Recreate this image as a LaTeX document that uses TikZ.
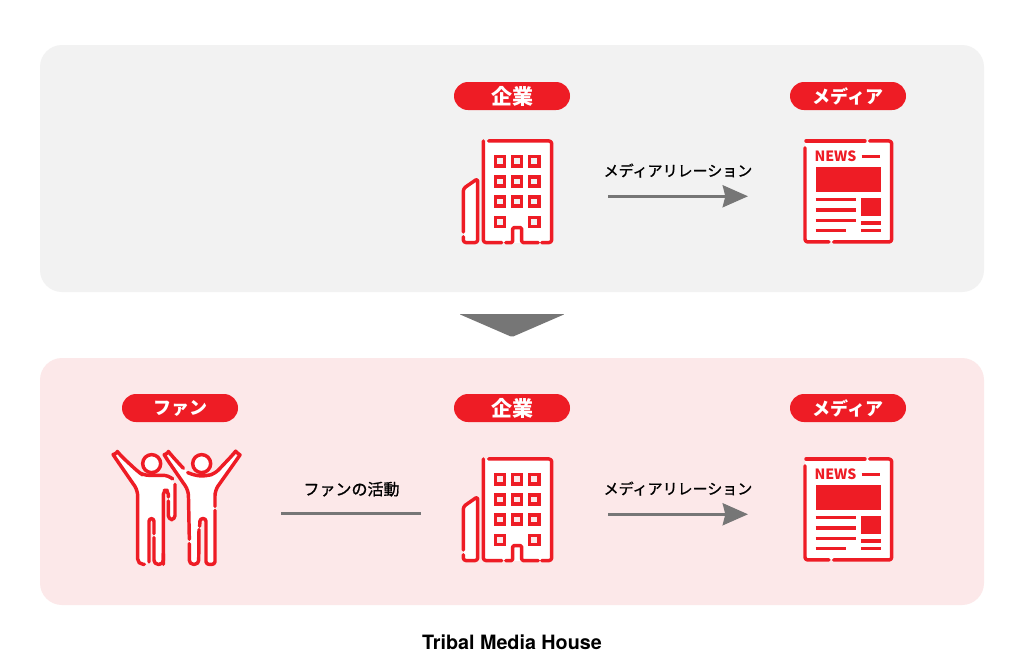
\documentclass[tikz,border=0pt]{standalone}
\usepackage{fontspec}
\usepackage{tikz}
\usetikzlibrary{positioning,arrows.meta}
\newfontfamily\cjk{Noto Sans CJK JP}
\newfontfamily\cjkmed[FakeBold=1]{Noto Sans CJK JP}
\newfontfamily\logofont{TeX Gyre Heros}
\definecolor{brandred}{HTML}{EE1C25}
\definecolor{panelgray}{HTML}{F2F2F2}
\definecolor{panelpink}{HTML}{FCE8E9}
\definecolor{arrowgray}{HTML}{767676}
\tikzset{
  panelbox/.style={rounded corners=16.5pt,minimum width=708pt,minimum height=185.25pt},
  tagpill/.style={fill=brandred,text=white,rounded corners=10.5pt,minimum width=87pt,minimum height=21pt,inner sep=0pt,font=\cjk\bfseries\fontsize{13.5}{14}\selectfont},
  iconbox/.style={minimum height=82.5pt,inner sep=0pt,outer sep=0pt},
  iconline/.style={draw=brandred,line width=2.6pt,line cap=round,line join=round},
  windowline/.style={draw=brandred,line width=2.6pt,line join=miter},
  relarrow/.style={draw=arrowgray,line width=2.1pt,-{Stealth[length=19pt,width=16.5pt,inset=2pt]}},
  relline/.style={draw=arrowgray,line width=2.1pt},
  rellabel/.style={font=\cjkmed\fontsize{11.25}{12}\selectfont,inner sep=0pt,above=13pt}
}
\newcommand{\corpicon}[2]{%
\begin{scope}[shift={(#1)},shift={(-507,-196)}]
\fill[white] (483.3,140.7) rectangle (551.7,242.3);
\fill[white] (463.3,188.3) -- (477.7,178.3) -- (477.7,242.3) -- (463.3,242.3) -- cycle;
\draw[iconline,rounded corners=2pt] (488.7,140.7) -- (551.7,140.7) -- (551.7,242.3) -- (541.7,242.3);
\draw[iconline,rounded corners=1pt] (538.3,242.3) -- (521.7,242.3) -- (521.7,227.3) -- (512.7,227.3) -- (512.7,242.3) -- (505.7,242.3);
\draw[iconline,rounded corners=2pt] (501.7,242.3) -- (483.3,242.3) -- (483.3,140.7);
\draw[iconline,rounded corners=2pt] (463.3,231.7) -- (463.3,188.3) -- (477.7,178.3) -- (477.7,242.3) -- (463.3,242.3) -- (463.3,236.5);
\foreach \wx in {500,517,534.3}
  \foreach \wy in {161,181.3,201.3}
    \draw[windowline,fill=#2] (\wx-4.6,\wy-4.6) rectangle (\wx+4.6,\wy+4.6);
\foreach \wx in {500,534.3}
  \draw[windowline,fill=#2] (\wx-4.6,217.1) rectangle (\wx+4.6,226.3);
\end{scope}}
\newcommand{\newsicon}[1]{%
\begin{scope}[shift={(#1)},shift={(-848,-196)}]
\fill[white] (805,140.7) rectangle (891.7,241.7);
\draw[iconline,rounded corners=1.5pt] (806,140.7) -- (865,140.7);
\draw[iconline,rounded corners=2pt] (869.5,140.7) -- (891.7,140.7) -- (891.7,241.7) -- (833.5,241.7);
\draw[iconline,rounded corners=2pt] (829,241.7) -- (805,241.7) -- (805,147.5);
\node (newsWord) at (835.5,156.3) [inner sep=0pt,text=brandred,font=\cjk\bfseries\fontsize{10.6}{12}\selectfont] {NEWS};
\fill[brandred] (815.7,166.3) rectangle (881.3,191.3);
\fill[brandred] (861,197.3) rectangle (881.3,215.3);
\draw[iconline,line cap=butt] (861.7,156) -- (880,156);
\draw[iconline,line cap=butt] (815.7,199.3) -- (856,199.3);
\draw[iconline,line cap=butt] (815.7,209.7) -- (856,209.7);
\draw[iconline,line cap=butt] (815.7,220) -- (856,220);
\draw[iconline,line cap=butt] (815.7,230.3) -- (846.3,230.3);
\draw[iconline,line cap=butt] (861,222.7) -- (881.3,222.7);
\draw[iconline,line cap=butt] (861,230.3) -- (881.3,230.3);
\end{scope}}
\newcommand{\fansicon}[1]{%
\begin{scope}[shift={(#1)},shift={(-177,-514)},shift={(100,440)},scale=1/3]
\fill[white,rounded corners=3pt] (48,52) -- (113,150) -- (113,372) -- (147,372) -- (147,235) -- (162,235) -- (162,372) -- (190,372) -- (190,150) -- (205,150) -- (205,240) -- (225,240) -- (225,130) -- (205,105) -- (130,105) -- (115,95) -- (55,40) -- cycle;
\fill[white,rounded corners=3pt] (202,52) -- (265,150) -- (268,372) -- (296,372) -- (297,235) -- (318,235) -- (318,372) -- (345,372) -- (345,150) -- (411,52) -- (403,42) -- (345,100) -- (320,107) -- (290,107) -- (262,95) -- (210,42) -- cycle;
\draw[iconline,fill=white] (155,70) circle (27);
\draw[iconline,fill=white] (305,70) circle (27);
% left fan
\draw[iconline,rounded corners=3pt] (190,372) -- (190,150) -- (205,150) -- (205,170);
\draw[iconline,rounded corners=3pt] (205,182) -- (205,238) -- (225,238) -- (225,132);
\draw[iconline,rounded corners=4pt] (218,116) -- (205,105) -- (130,105) -- (115,95) -- (62,46) .. controls (54,36) and (40,44) .. (48,56) -- (113,150) -- (113,372) -- (133,372);
\draw[iconline,rounded corners=2pt] (147,365) -- (147,235) -- (162,235) -- (162,280);
\draw[iconline,rounded corners=3pt] (162,292) -- (162,372) -- (190,372) -- (190,340);
% right fan
\draw[iconline,rounded corners=4pt] (250,84) -- (215,46) .. controls (207,36) and (193,44) .. (201,57) -- (265,150) -- (268,297);
\draw[iconline,rounded corners=3pt] (268,310) -- (268,372) -- (296,372) -- (297,268);
\draw[iconline,rounded corners=2pt] (299,258) -- (300,235) -- (318,235) -- (318,372) -- (345,372) -- (345,210);
\draw[iconline,rounded corners=4pt] (345,198) -- (345,150) -- (411,57) .. controls (420,44) and (406,34) .. (397,45) -- (345,100) -- (320,107) -- (290,107) -- (263,97);
\end{scope}}

\begin{document}
\begin{tikzpicture}[x=0.75pt,y=-0.75pt]
\useasboundingbox[fill=white] (0,0) rectangle (1024,669);
\node (panelA) [panelbox,fill=panelgray] at (512,168.5) {};
\node (panelB) [panelbox,fill=panelpink] at (512,481.5) {};
\fill[arrowgray,rounded corners=1pt] (459,314) -- (565,314) -- (512,337) -- cycle;

\node (corpTagA) [tagpill,font=\cjk\bfseries\fontsize{15.75}{16}\selectfont] at (512,96) {企業};
\node (mediaTagA) [tagpill] at (848,96) {メディア};
\node (corpA) [iconbox,minimum width=67.5pt,below=23.25pt of corpTagA,xshift=-3.75pt] {};
\node (newsA) [iconbox,minimum width=66pt,below=23.25pt of mediaTagA] {};
\corpicon{corpA.center}{panelgray}
\newsicon{newsA.center}
\draw[relarrow,shorten <=42pt,shorten >=42pt] (corpA.east) -- (newsA.west) node (relTextA) [midway,rellabel] {メディアリレーション};

\node (fanTag) [tagpill] at (180,408) {ファン};
\node (corpTagB) [tagpill,font=\cjk\bfseries\fontsize{15.75}{16}\selectfont] at (512,408) {企業};
\node (mediaTagB) [tagpill] at (848,408) {メディア};
\node (fans) [iconbox,minimum width=96pt,below=27.75pt of fanTag,xshift=-2.25pt] {};
\node (corpB) [iconbox,minimum width=67.5pt,below=27.75pt of corpTagB,xshift=-3.75pt] {};
\node (newsB) [iconbox,minimum width=66pt,below=27.75pt of mediaTagB] {};
\fansicon{fans.center}
\corpicon{corpB.center}{panelpink}
\newsicon{newsB.center}
\draw[relline,shorten <=30pt,shorten >=30.75pt] ([yshift=0.75pt]fans.east) -- ([yshift=0.75pt]corpB.west) node (fanText) [midway,rellabel,font=\cjkmed\fontsize{12}{13}\selectfont,above=11.5pt] {ファンの活動};
\draw[relarrow,shorten <=42pt,shorten >=42pt] (corpB.east) -- (newsB.west) node (relTextB) [midway,rellabel] {メディアリレーション};

\node (logo) at (512,642) [font=\logofont\bfseries\fontsize{14.8}{15}\selectfont] {Tribal Media House};
\end{tikzpicture}
\end{document}
